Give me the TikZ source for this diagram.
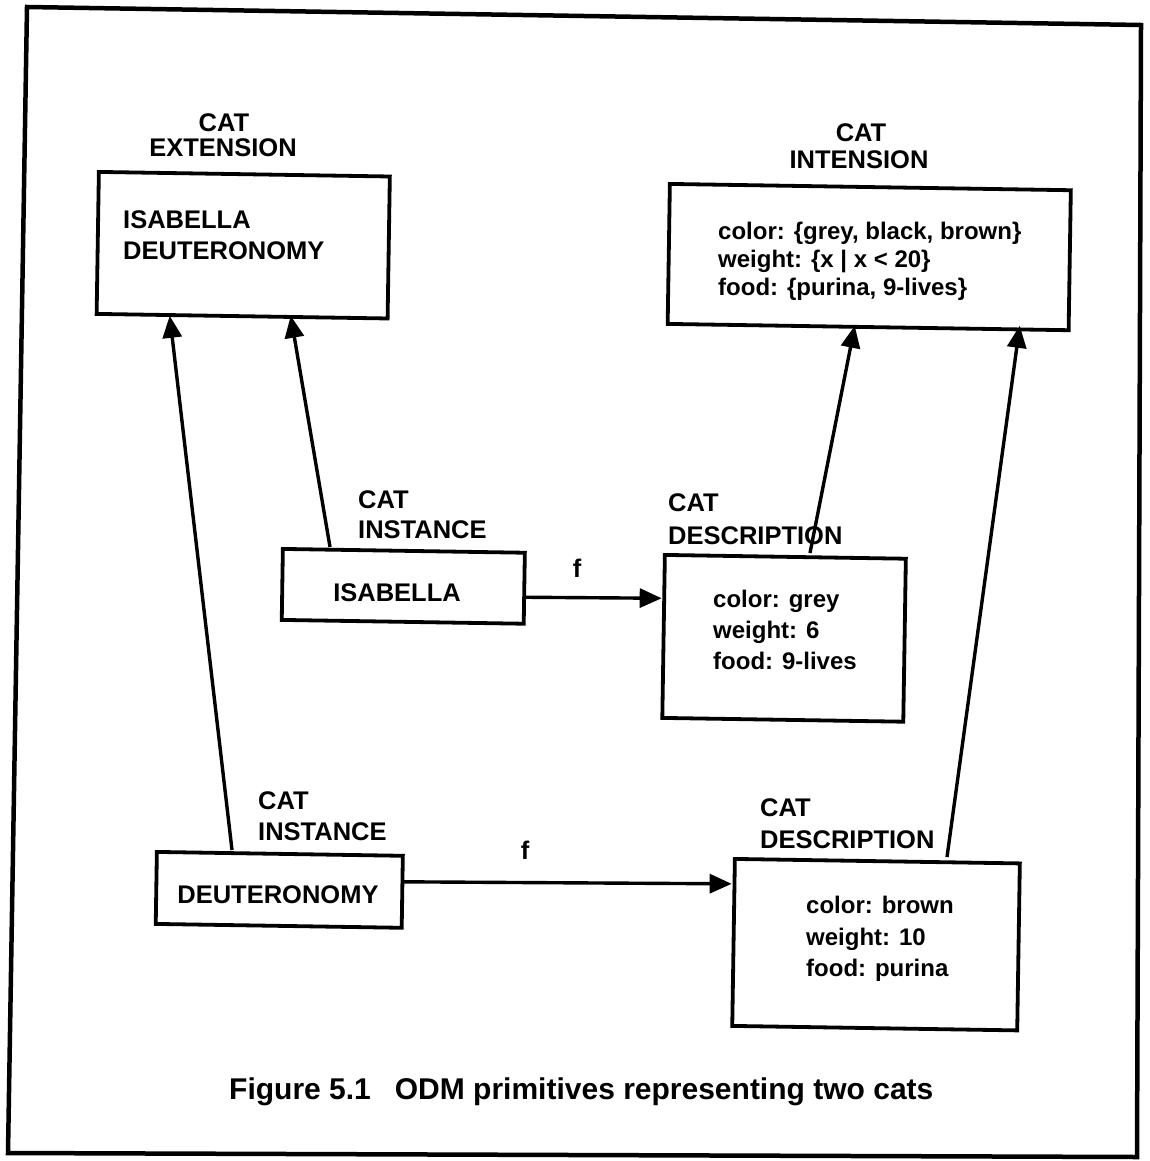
\documentclass[tikz,border=0pt]{standalone}
\usepackage{fontspec}
\setmainfont{Liberation Sans}
\usetikzlibrary{arrows.meta}
\begin{document}
\begin{tikzpicture}[x=1pt,y=-1pt,
  tilt/.style={rotate=-0.9},
  box/.style={draw, line width=3.8pt, inner sep=0pt, anchor=north west, tilt},
  lbl/.style={inner sep=0pt, anchor=base west, font=\fontsize{25.5}{25.5}\selectfont\bfseries},
  clbl/.style={lbl, anchor=base},
  txt/.style={inner sep=0pt, anchor=base west, font=\fontsize{24}{24}\selectfont\bfseries},
  arr/.style={line width=3.4pt, -{Triangle[length=22pt,width=19pt]}},
]
\useasboundingbox (0,0) rectangle (1149,1161);
\fill[white] (0,0) rectangle (1149,1161);

% outer frame
\draw[line width=4.5pt, line join=miter] (27,7) -- (1141,25) -- (1137,1157) -- (8,1153) -- cycle;

% extension
\node[clbl] (extA) at (224,132) {CAT};
\node[clbl] (extB) at (223,157) {EXTENSION};
\node[box, minimum width=291pt, minimum height=142pt] (ext) at (97,170) {};
\node[lbl] (extT1) at (123,228) {ISABELLA};
\node[lbl] (extT2) at (123,259) {DEUTERONOMY};

% intension
\node[clbl] (intA) at (861,142) {CAT};
\node[clbl] (intB) at (859,168) {INTENSION};
\node[box, minimum width=401pt, minimum height=140pt] (int) at (668,182) {};
\node[txt] (intT1) at (718,239) {color: \{grey, black, brown\}};
\node[txt] (intT2) at (718,267) {weight: \{x | x < 20\}};
\node[txt] (intT3) at (718,295) {food: \{purina, 9-lives\}};

% first instance
\node[lbl] (i1A) at (358,508) {CAT};
\node[lbl] (i1B) at (358,538) {INSTANCE};
\node[box, minimum width=242pt, minimum height=71pt] (inst1) at (281,547) {};
\node[clbl] (i1T) at (397,601) {ISABELLA};

% first description
\node[lbl] (d1A) at (668,511) {CAT};
\node[lbl] (d1B) at (668,544) {DESCRIPTION};
\node[box, minimum width=241pt, minimum height=163pt] (desc1) at (663,553) {};
\node[txt] (d1T1) at (713,607) {color: grey};
\node[txt] (d1T2) at (713,638) {weight: 6};
\node[txt] (d1T3) at (713,669) {food: 9-lives};

% second instance
\node[lbl] (i2A) at (258,809) {CAT};
\node[lbl] (i2B) at (258,840) {INSTANCE};
\node[box, minimum width=246pt, minimum height=72pt] (inst2) at (155,850) {};
\node[clbl] (i2T) at (278,903) {DEUTERONOMY};

% second description
\node[lbl] (d2A) at (760,816) {CAT};
\node[lbl] (d2B) at (760,848) {DESCRIPTION};
\node[box, minimum width=285pt, minimum height=167pt] (desc2) at (733,857) {};
\node[txt] (d2T1) at (806,913) {color: brown};
\node[txt] (d2T2) at (806,945) {weight: 10};
\node[txt] (d2T3) at (806,976) {food: purina};

% connectors
\draw[arr] ([xshift=77pt]inst2.north west) -- ([xshift=75pt]ext.south west);
\draw[arr] ([xshift=49pt]inst1.north west) -- ([xshift=196pt]ext.south west);
\draw[arr] ([xshift=147pt]desc1.north west) -- ([xshift=189pt]int.south west);
\draw[arr] ([xshift=214pt]desc2.north west) -- ([xshift=354pt]int.south west);

\coordinate (f1) at ([yshift=-9pt]inst1.east);
\draw[arr] (f1) -- ([yshift=-10pt]desc1.west |- inst1.east);
\node[clbl] (f1lbl) at (577,577) {f};

\coordinate (f2) at ([yshift=10pt]inst2.east);
\draw[arr] (f2) -- ([yshift=8pt]desc2.west |- inst2.east);
\node[clbl] (f2lbl) at (525,859) {f};

% caption
\node[inner sep=0pt, anchor=base west, font=\fontsize{30}{30}\selectfont\bfseries] (cap)
  at (229,1099) {Figure 5.1\hspace{24pt}ODM primitives representing two cats};
\end{tikzpicture}
\end{document}
